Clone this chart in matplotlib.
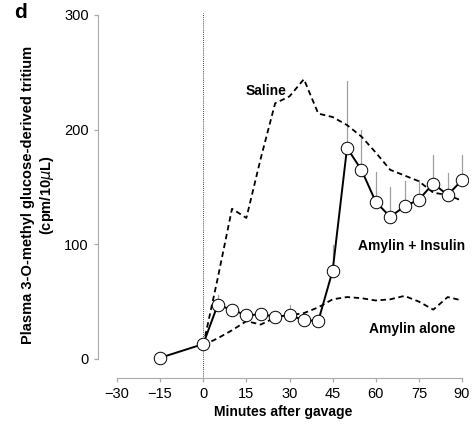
import matplotlib
matplotlib.use('Agg')
import matplotlib.pyplot as plt

plt.rcParams['font.family'] = ['Liberation Sans', 'DejaVu Sans']

# 数据
t_ai = [-15, 0, 5, 10, 15, 20, 25, 30, 35, 40, 45, 50, 55, 60, 65, 70, 75, 80, 85, 90]
amylin_insulin = [1, 13, 47, 43, 38, 39, 37, 38, 34, 33, 77, 184, 165, 137, 124, 133, 139, 153, 143, 156]
err_ai = [0, 0, 9, 4, 3, 5, 3, 9, 3, 2, 22, 58, 35, 26, 26, 22, 17, 25, 19, 22]

t_dash = [0, 5, 10, 15, 20, 25, 30, 35, 40, 45, 50, 55, 60, 65, 70, 75, 80, 85, 90]
saline = [12, 70, 131, 123, 175, 223, 229, 244, 214, 211, 204, 194, 180, 165, 160, 155, 145, 143, 138]
amylin_alone = [12, 18, 25, 33, 30, 36, 38, 40, 45, 52, 54, 53, 51, 52, 55, 50, 43, 54, 51]

xticks = [-30, -15, 0, 15, 30, 45, 60, 75, 90]
yticks = [0, 100, 200, 300]

fig = plt.figure(figsize=(4.73, 4.29), dpi=100)
ax = fig.add_axes([0.2072, 0.1189, 0.7818, 0.8515])

# 0 分钟的虚线
ax.axvline(0, color='black', lw=0.6, ls=(0, (1, 1.5)), zorder=1)

# 误差棒（只向上）
for t, v, e in zip(t_ai, amylin_insulin, err_ai):
    if e > 0:
        ax.plot([t, t], [v, v + e], color='#a0a0a0', lw=0.9, zorder=2)

ax.plot(t_dash, saline, color='black', lw=1.3, ls=(0, (3, 2)), zorder=3)
ax.plot(t_dash, amylin_alone, color='black', lw=1.3, ls=(0, (3, 2)), zorder=3)
ax.plot(t_ai, amylin_insulin, color='black', lw=1.4, marker='o', ms=9,
        mfc='white', mec='black', mew=0.7, zorder=4)

# 标签
ax.text(28.8, 234, 'Saline', fontsize=10, fontweight='bold', ha='right', va='center')
ax.text(72.5, 98.5, 'Amylin + Insulin', fontsize=10, fontweight='bold', ha='center', va='center')
ax.text(72.5, 26, 'Amylin alone', fontsize=10, fontweight='bold', ha='center', va='center')

ax.set_xlim(-36.6, 92)
ax.set_ylim(-16.6, 302)
ax.set_xticks(xticks)
ax.set_xticklabels(['\u221230', '\u221215', '0', '15', '30', '45', '60', '75', '90'])
ax.set_yticks(yticks)
ax.tick_params(labelsize=10.5, color='#aaaaaa', length=3.2, width=0.9)

for s in ['top', 'right']:
    ax.spines[s].set_visible(False)
ax.spines['left'].set_bounds(0, 300)
ax.spines['bottom'].set_bounds(-30, 90)
ax.spines['left'].set_color('#aaaaaa')
ax.spines['bottom'].set_color('#aaaaaa')

ax.set_xlabel('Minutes after gavage', fontsize=10, fontweight='bold', labelpad=3)
ax.set_ylabel('Plasma 3-O-methyl glucose-derived tritium\n(cpm/10$\\mathit{\\mu}$L)',
              fontsize=10.5, fontweight='bold', labelpad=6)

fig.text(0.044, 0.97, 'd', fontsize=15, fontweight='bold', ha='center', va='center')

plt.savefig('out.png', dpi=100)
